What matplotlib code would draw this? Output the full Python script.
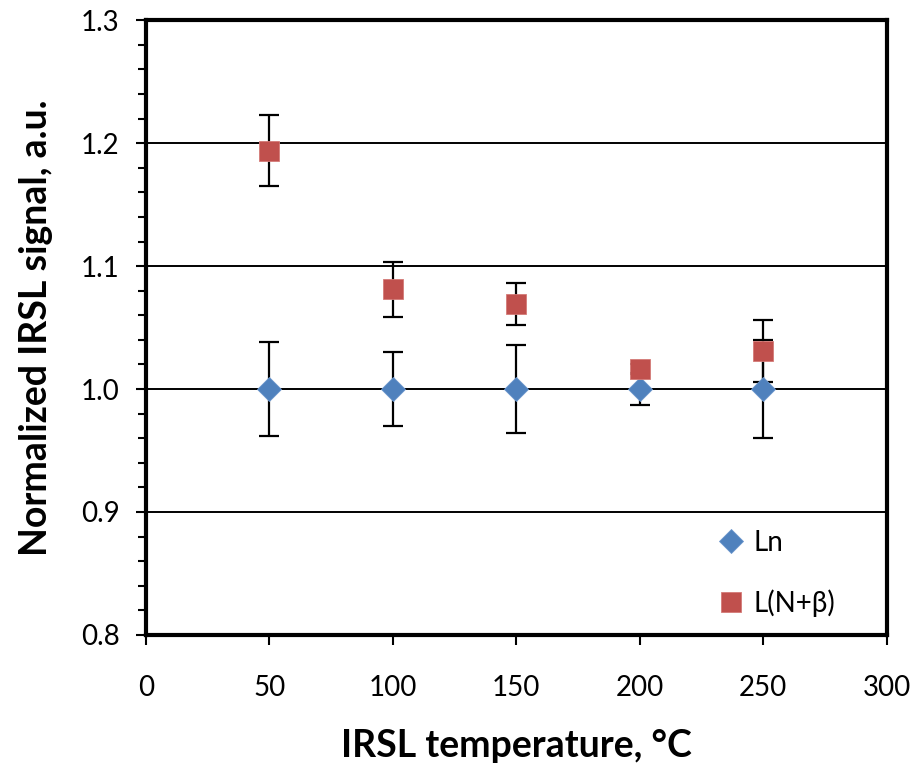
import numpy as np
import matplotlib.pyplot as plt
from matplotlib.ticker import MultipleLocator

plt.rcParams["font.family"] = ["Lato", "DejaVu Sans"]

# IRSL stimulation temperatures (deg C)
temps = [50, 100, 150, 200, 250]

# Ln (normalized, all 1.0) and its error bars
ln_vals = [1.000, 1.000, 1.000, 1.000, 1.000]
ln_err = [0.038, 0.030, 0.036, 0.013, 0.040]

# L(N+beta) normalized and its error bars
lnb_vals = [1.194, 1.081, 1.069, 1.016, 1.031]
lnb_err = [0.029, 0.022, 0.017, 0.004, 0.025]

BLUE = "#4F81BD"
RED = "#C0504D"

fig = plt.figure(figsize=(9.18, 7.8), dpi=100)
ax = fig.add_axes([0.159, 0.186, 0.807, 0.788])

ax.errorbar(temps, ln_vals, yerr=ln_err, fmt="none", ecolor="black",
            elinewidth=1.6, capsize=7, capthick=1.6, zorder=3)
ax.errorbar(temps, lnb_vals, yerr=lnb_err, fmt="none", ecolor="black",
            elinewidth=1.6, capsize=7, capthick=1.6, zorder=3)
ax.plot(temps, ln_vals, linestyle="none", marker="D", markersize=12.5,
        color=BLUE, markeredgecolor="#6A96CC", markeredgewidth=0.6,
        label="Ln", zorder=4)
ax.plot(temps, lnb_vals, linestyle="none", marker="s", markersize=14,
        color=RED, markeredgecolor="#D47A77", markeredgewidth=0.6,
        label="L(N+β)", zorder=5)

ax.set_xlim(0, 300)
ax.set_ylim(0.8, 1.3)
ax.xaxis.set_major_locator(MultipleLocator(50))
ax.yaxis.set_major_locator(MultipleLocator(0.1))
ax.yaxis.set_minor_locator(MultipleLocator(0.02))
ax.yaxis.set_major_formatter(plt.FuncFormatter(lambda v, p: f"{v:.1f}"))

ax.grid(axis="y", which="major", color="black", linewidth=1.4, zorder=1)
ax.set_axisbelow(True)

for side in ["left", "bottom", "top", "right"]:
    ax.spines[side].set_linewidth(3)
    ax.spines[side].set_color("black")

ax.tick_params(axis="both", which="major", direction="out", length=7,
               width=1.5, labelsize=20, pad=12)
ax.tick_params(axis="x", which="major", pad=22)
ax.tick_params(axis="y", which="minor", direction="out", length=6, width=1.5)

ax.set_xlabel("IRSL temperature, °C", fontsize=27, fontweight="bold",
              labelpad=20)
ax.set_ylabel("Normalized IRSL signal, a.u.", fontsize=27, fontweight="bold",
              labelpad=20)

ax.legend(loc="lower right", bbox_to_anchor=(0.975, -0.025), frameon=False,
          fontsize=20, handlelength=1.0, handletextpad=0.3, labelspacing=1.2,
          borderaxespad=0.8)

fig.savefig("out.png", dpi=100)
